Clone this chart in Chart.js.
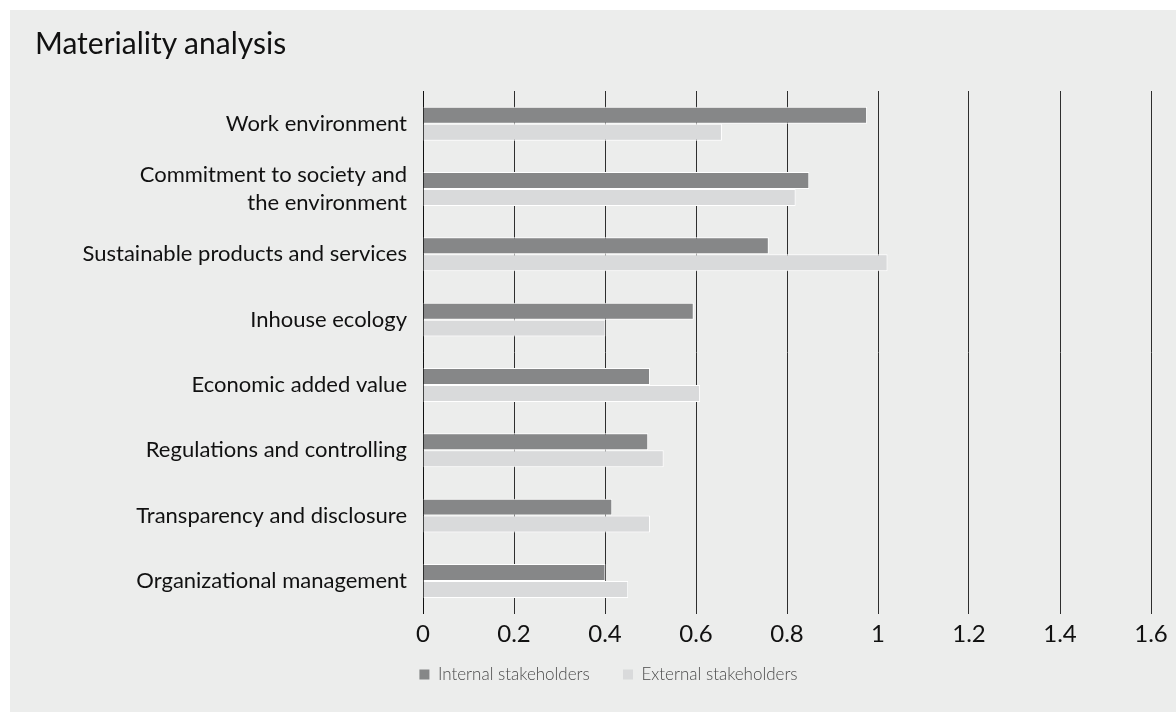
<!DOCTYPE html>
<html>
<head>
<meta charset="utf-8">
<script src="https://cdn.jsdelivr.net/npm/chart.js@4"></script>
<style>
  body { margin: 0; background: #fff; }
  #panel { position: absolute; left: 10px; top: 10px; width: 1166px; height: 702px; background: #ecedec; }
  #title { position: absolute; left: 25px; top: 17px; font: 30px/30px Lato, sans-serif; color: #111; }
  #wrap { position: absolute; left: 0; top: 0; width: 1166px; height: 702px; }
</style>
</head>
<body>
<div id="panel">
  <div id="wrap"><canvas id="chart"></canvas></div>
  <div id="title">Materiality analysis</div>
</div>
<script>
// values
const categories = [
  'Work environment',
  ['Commitment to society and', 'the environment'],
  'Sustainable products and services',
  'Inhouse ecology',
  'Economic added value',
  'Regulations and controlling',
  'Transparency and disclosure',
  'Organizational management'
];
const seriesNames = ['Internal stakeholders', 'External stakeholders'];
const internalValues = [0.976, 0.849, 0.760, 0.595, 0.499, 0.495, 0.416, 0.401];
const externalValues = [0.657, 0.819, 1.021, 0.401, 0.609, 0.529, 0.499, 0.451];
const xTickLabels = ['0', '0.2', '0.4', '0.6', '0.8', '1', '1.2', '1.4', '1.6'];

// left padding keeps the legend centred where the original has it
const padLeft = 56;

new Chart(document.getElementById('chart'), {
  type: 'bar',
  data: {
    labels: categories,
    datasets: [
      { label: seriesNames[0], data: internalValues, backgroundColor: '#868788', borderColor: '#ffffff', borderWidth: 1 },
      { label: seriesNames[1], data: externalValues, backgroundColor: '#d9dadb', borderColor: '#ffffff', borderWidth: 1 }
    ]
  },
  options: {
    indexAxis: 'y',
    responsive: true,
    maintainAspectRatio: false,
    animation: false,
    categoryPercentage: 0.52,
    barPercentage: 1,
    layout: { padding: { top: 81, left: padLeft, right: 25, bottom: 19 } },
    scales: {
      x: {
        min: 0,
        max: 1.6,
        ticks: {
          stepSize: 0.2,
          padding: 7,
          color: '#111',
          font: { family: 'Lato', size: 24, lineHeight: 1.1 },
          callback: (v, i) => xTickLabels[i]
        },
        grid: { color: '#2e2e2e', lineWidth: 1, drawTicks: false },
        border: { display: false }
      },
      y: {
        afterFit: (scale) => { scale.width = 413 - padLeft; },
        ticks: {
          padding: 16,
          color: '#111',
          font: { family: 'Lato', size: 22, lineHeight: 1.27 }
        },
        grid: { display: false, drawTicks: false },
        border: { display: true, color: '#111', width: 1 }
      }
    },
    plugins: {
      title: { display: false },
      tooltip: { enabled: false },
      legend: {
        position: 'bottom',
        labels: {
          boxWidth: 10,
          boxHeight: 10,
          padding: 12,
          color: '#4a4a4a',
          font: { family: 'Lato', size: 17, weight: 300 },
          generateLabels: (chart) => Chart.defaults.plugins.legend.labels.generateLabels(chart).map((item, i) => {
            item.lineWidth = 0;
            if (i === 0) item.text = item.text + '\u2003\u2002';
            return item;
          })
        }
      }
    }
  }
});
</script>
</body>
</html>
